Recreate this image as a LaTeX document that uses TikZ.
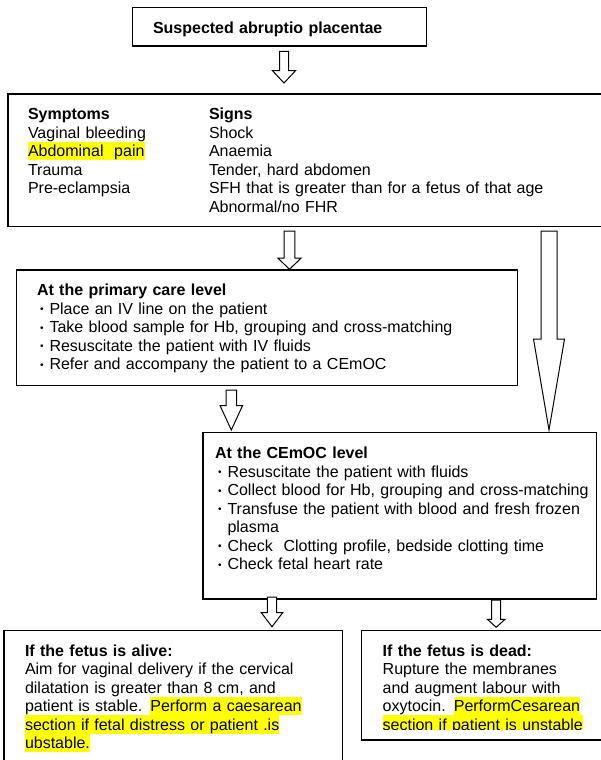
\documentclass[tikz,border=0pt]{standalone}
\usepackage{fontspec}
\setmainfont{Liberation Sans}
\usetikzlibrary{calc}

\definecolor{hlyellow}{RGB}{255,255,0}

% yellow text highlight, one line at a time
\newcommand\hlt[1]{{\setlength\fboxsep{0pt}\colorbox{hlyellow}{\rule[-3.6bp]{0pt}{18.2bp}#1}}}
% small bullet followed by the item text
\newcommand\bitem{\makebox[12.5bp][l]{\hspace{3bp}\raisebox{1.2bp}{\fontsize{10bp}{10bp}\selectfont\textbullet}}}
% outlined block arrow: #1 top, #2 tip, #3 shaft half width, #4 head half width, #5 head length
\newcommand\hollowarrow[5]{%
  \draw[arrowline] let \p1=(#1), \p2=(#2) in
    (\x2-#3,\y1) -- (\x2+#3,\y1) -- (\x2+#3,\y2+#5) -- (\x2+#4,\y2+#5)
    -- (\x2,\y2) -- (\x2-#4,\y2+#5) -- (\x2-#3,\y2+#5) -- cycle;}

\tikzset{
  box/.style={draw=black, line width=1.3bp, rectangle, inner sep=0pt,
    outer sep=0pt, anchor=north west},
  txt/.style={anchor=base west, inner sep=0pt, outer sep=0pt, align=left,
    text width=#1, font=\fontsize{16bp}{18.5bp}\selectfont},
  arrowline/.style={draw=black, line width=1bp, fill=white}
}

\begin{document}
\begin{tikzpicture}[x=1bp, y=-1bp]
\useasboundingbox (0,0) rectangle (601,760);
\clip (0,0) rectangle (601,760);

% frames
\node[box, minimum width=294.4bp, minimum height=38.7bp]  (b1) at (132.3,7.3) {};
\node[box, minimum width=600bp,   minimum height=132.7bp] (b2) at (8,94) {};
\node[box, minimum width=501bp,   minimum height=115.5bp] (b3) at (16.5,270) {};
\node[box, minimum width=393.7bp, minimum height=166.3bp] (b4) at (203,432.7) {};
\node[box, minimum width=338.3bp, minimum height=140bp]   (b5) at (4,630.7) {};
\node[box, minimum width=245bp,   minimum height=109.7bp] (b6) at (361.7,630.3) {};

% texts
\node[txt=280bp] (t1) at (153,33.3) {\textbf{Suspected abruptio placentae}};

\node[txt=170bp] (t2a) at (28,119.5) {\textbf{Symptoms}\\
  Vaginal bleeding\\
  \hlt{Abdominal\ \ pain}\\
  Trauma\\
  Pre-eclampsia};

\node[txt=380bp] (t2b) at (209,119.5) {\textbf{Signs}\\
  Shock\\
  Anaemia\\
  Tender, hard abdomen\\
  SFH that is greater than for a fetus of that age\\
  Abnormal/no FHR};

\node[txt=470bp] (t3) at (37,295.5) {\textbf{At the primary care level}\\
  \bitem Place an IV line on the patient\\
  \bitem Take blood sample for Hb, grouping and cross-matching\\
  \bitem Resuscitate the patient with IV fluids\\
  \bitem Refer and accompany the patient to a CEmOC};

\node[txt=375bp] (t4) at (215,458.5) {\textbf{At the CEmOC level}\\
  \bitem Resuscitate the patient with fluids\\
  \bitem Collect blood for Hb, grouping and cross-matching\\
  \bitem Transfuse the patient with blood and fresh frozen\\
  \hspace*{12.5bp}plasma\\
  \bitem Check\ \ Clotting profile, bedside clotting time\\
  \bitem Check fetal heart rate};

\node[txt=315bp] (t5) at (25,656) {\textbf{If the fetus is alive:}\\
  Aim for vaginal delivery if the cervical\\
  dilatation is greater than 8 cm, and\\
  patient is stable. \hlt{Perform a caesarean}\\
  \hlt{section if fetal distress or patient .is}\\
  \hlt{ubstable.}};

\begin{scope}
  \clip (361.7,630.3) rectangle (601,729.5);
  \node[txt=220bp] (t6) at (382.7,656) {\textbf{If the fetus is dead:}\\
    Rupture the membranes\\
    and augment labour with\\
    oxytocin. \hlt{PerformCesarean}\\
    \hlt{section if patient is unstable}};
\end{scope}

% block arrows
\coordinate (a1s) at (284,51.5);   \coordinate (a1e) at (284,83);
\coordinate (a2s) at (289.5,231);  \coordinate (a2e) at (289.5,269.3);
\coordinate (a3s) at (549,231);    \coordinate (a3e) at (549,430);
\coordinate (a4s) at (231.3,390);  \coordinate (a4e) at (231.3,430);
\coordinate (a5s) at (272,597);    \coordinate (a5e) at (272,626.7);
\coordinate (a6s) at (496.2,600);  \coordinate (a6e) at (496.2,627.3);

\hollowarrow{a1s}{a1e}{4.5bp}{11.5bp}{12.3bp}
\hollowarrow{a2s}{a2e}{5.3bp}{11.7bp}{11.3bp}
\hollowarrow{a3s}{a3e}{8bp}{15.5bp}{91bp}
\hollowarrow{a4s}{a4e}{5.3bp}{11.2bp}{24.3bp}
\hollowarrow{a5s}{a5e}{4.7bp}{10.7bp}{14bp}
\hollowarrow{a6s}{a6e}{4.5bp}{8.8bp}{8bp}
\end{tikzpicture}
\end{document}
